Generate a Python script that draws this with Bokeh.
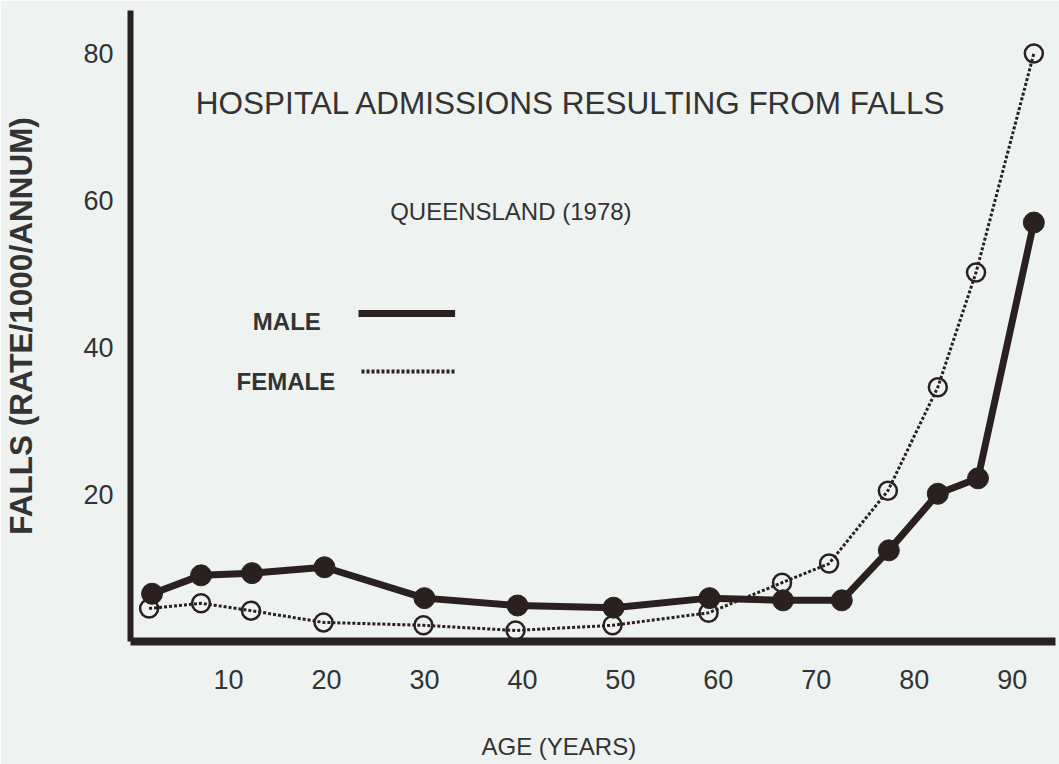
from bokeh.plotting import figure
from bokeh.models import Range1d, Label, Arrow, FixedTicker, Title
from bokeh.embed import file_html
from bokeh.resources import INLINE

# ---- data ----
male_age = [2.2, 7.2, 12.4, 19.8, 30.0, 39.5, 49.3, 59.1, 66.6, 72.6, 77.4, 82.4, 86.5, 92.2]
male_rate = [6.5, 9.0, 9.3, 10.1, 5.9, 4.9, 4.6, 5.9, 5.6, 5.6, 12.4, 20.1, 22.2, 57.0]
female_age = [1.9, 7.2, 12.3, 19.7, 29.9, 39.3, 49.2, 59.0, 66.5, 71.3, 77.3, 82.4, 86.3, 92.2]
female_rate = [4.5, 5.2, 4.2, 2.6, 2.2, 1.5, 2.2, 3.9, 8.0, 10.6, 20.5, 34.6, 50.2, 80.0]
x_ticks = [10, 20, 30, 40, 50, 60, 70, 80, 90]
y_ticks = [20, 40, 60, 80]

title_text = "HOSPITAL ADMISSIONS RESULTING FROM FALLS"
subtitle_text = "QUEENSLAND (1978)"
x_label = "AGE (YEARS)"
y_label = "FALLS (RATE/1000/ANNUM)"
series_names = ["MALE", "FEMALE"]

# ---- layout ----
W, H = 1059, 764
L, R, T, B = 126, 1055, 10, 641
X0, X1 = 0, (R - L) / 9.84
Y0, Y1 = 0, (B - T) / 7.35

INK = "#2b2020"
TXT = "#333333"
BG = "#eef2f0"
FONT = "Liberation Sans"

p = figure(width=W, height=H, x_range=Range1d(X0, X1), y_range=Range1d(Y0, Y1),
           output_backend="svg", toolbar_location=None,
           min_border_left=L, min_border_right=W - R, min_border_top=T,
           min_border_bottom=H - B)
p.background_fill_color = BG
p.border_fill_color = BG
p.outline_line_color = None
p.grid.visible = False


def dx(px):
    return X0 + (px - L) / (R - L) * (X1 - X0)


def dy(py):
    return Y0 + (B - py) / (B - T) * (Y1 - Y0)


# axes
for ax in (p.xaxis[0], p.yaxis[0]):
    ax.major_tick_line_color = None
    ax.minor_tick_line_color = None
    ax.major_tick_out = 0
    ax.major_tick_in = 0
    ax.axis_line_color = INK
    ax.major_label_text_font = FONT
    ax.major_label_text_font_size = "27px"
    ax.major_label_text_color = TXT

p.xaxis.ticker = FixedTicker(ticks=x_ticks)
p.yaxis.ticker = FixedTicker(ticks=y_ticks)
p.xaxis.axis_line_width = 8
p.yaxis.axis_line_width = 6
p.xaxis.major_label_standoff = 28
p.yaxis.major_label_standoff = 17

# y-axis title
p.yaxis.axis_label = y_label
p.yaxis.axis_label_text_font = FONT
p.yaxis.axis_label_text_color = TXT
p.yaxis.axis_label_text_font_size = "31.5px"
p.yaxis.axis_label_text_font_style = "bold"
p.yaxis.axis_label_standoff = 41

# blank spacer below the x axis, then the x-axis title (left-aligned, as in the reference)
p.add_layout(Title(text=" ", text_font_size="1px", standoff=36, text_color=BG), "below")
p.add_layout(Title(text=x_label, align="left", offset=351, standoff=0,
                   text_font=FONT, text_font_size="24px", text_font_style="normal",
                   text_color=TXT), "below")

# series
p.line(female_age, female_rate, line_color=INK, line_width=3, line_dash="3 2")
p.scatter(female_age, female_rate, marker="circle", size=18, fill_alpha=0,
          line_color=INK, line_width=2.5)
p.line(male_age, male_rate, line_color=INK, line_width=7)
p.scatter(male_age, male_rate, marker="circle", size=21, fill_color=INK,
          line_color=INK)

# titles
p.add_layout(Label(x=dx(569), y=dy(102), text=title_text, text_align="center",
                   text_baseline="alphabetic", text_font=FONT, text_font_size="31.5px",
                   text_color=TXT))
p.add_layout(Label(x=dx(508), y=dy(211), text=subtitle_text, text_align="center",
                   text_baseline="alphabetic", text_font=FONT, text_font_size="24px",
                   text_color=TXT))

# legend
p.add_layout(Label(x=dx(283), y=dy(321), text=series_names[0], text_align="center",
                   text_baseline="alphabetic", text_font=FONT, text_font_size="24px",
                   text_font_style="bold", text_color=TXT))
p.add_layout(Label(x=dx(282), y=dy(381), text=series_names[1], text_align="center",
                   text_baseline="alphabetic", text_font=FONT, text_font_size="24px",
                   text_font_style="bold", text_color=TXT))
p.add_layout(Arrow(end=None, x_start=dx(355), y_start=dy(313), x_end=dx(452),
                   y_end=dy(313), line_color=INK, line_width=7))
p.add_layout(Arrow(end=None, x_start=dx(358), y_start=dy(371), x_end=dx(452),
                   y_end=dy(371), line_color=INK, line_width=4, line_dash="3 2"))

open("out.html", "w").write(file_html(p, INLINE))
